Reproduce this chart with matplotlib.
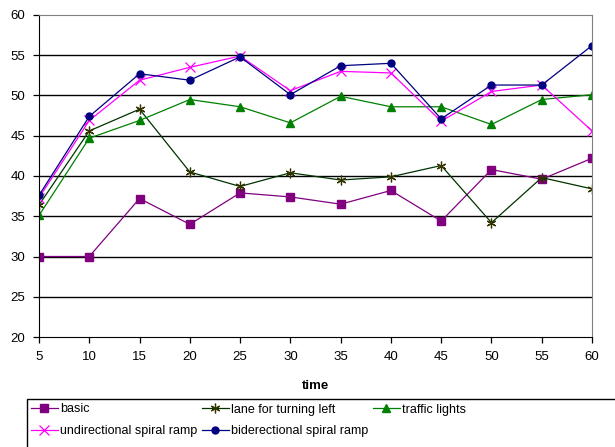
import matplotlib
matplotlib.use("Agg")
from matplotlib import pyplot as plt
from matplotlib.patches import Rectangle

plt.rcParams['font.family'] = ['Liberation Sans', 'DejaVu Sans']

time = [5, 10, 15, 20, 25, 30, 35, 40, 45, 50, 55, 60]

basic = [30.0, 30.0, 37.2, 34.0, 37.9, 37.4, 36.5, 38.2, 34.4, 40.8, 39.6, 42.2]
lane_left = [36.4, 45.6, 48.3, 40.5, 38.7, 40.4, 39.5, 39.9, 41.3, 34.2, 39.8, 38.4]
traffic = [35.1, 44.7, 46.9, 49.5, 48.6, 46.6, 49.9, 48.6, 48.6, 46.4, 49.5, 50.1]
undir = [37.3, 46.9, 51.9, 53.5, 54.9, 50.6, 53.0, 52.8, 46.8, 50.5, 51.3, 45.6]
bider = [37.6, 47.4, 52.7, 51.9, 54.8, 50.1, 53.7, 54.0, 47.1, 51.3, 51.3, 56.2]

W, H = 615, 447
fig = plt.figure(figsize=(W / 100, H / 100), dpi=100)
ax = fig.add_axes([39 / W, 1 - 337 / H, (592 - 39) / W, (337 - 15) / H])

l1, = ax.plot(time, basic, color='#800080', lw=0.9, marker='s', ms=5.5, label='basic')
l2, = ax.plot(time, lane_left, color='#003300', lw=0.9, marker=(6, 2, 0), ms=7,
              mec='#333300', mew=0.9, label='lane for turning left')
l3, = ax.plot(time, traffic, color='#008000', lw=0.9, marker='^', ms=6, label='traffic lights')
l4, = ax.plot(time, undir, color='#ff00ff', lw=0.9, marker='x', ms=7, mew=0.9,
              label='undirectional spiral ramp')
l5, = ax.plot(time, bider, color='#000080', lw=0.9, marker='o', ms=5, label='biderectional spiral ramp')

ax.set_xlim(5, 60)
ax.set_ylim(20, 60)
ax.set_xticks(time)
ax.set_yticks(range(20, 61, 5))
ax.tick_params(direction='out', length=4, width=0.9, color='black', labelsize=9.5, pad=6)
for y in range(25, 60, 5):
    ax.axhline(y, color='black', lw=1, zorder=0)
ax.spines['top'].set_color('#808080')
ax.spines['right'].set_color('#808080')
ax.spines['left'].set_color('black')
ax.spines['bottom'].set_color('black')
ax.set_xlabel('time', fontsize=9.5, fontweight='bold', labelpad=12)

fig.patches.append(Rectangle((27 / W, -0.05), 1.0, 1 - 399 / H + 0.05, transform=fig.transFigure,
                             fill=False, edgecolor='black', lw=1))
fig.legend([l1, l4, l2, l5, l3],
           ['basic', 'undirectional spiral ramp', 'lane for turning left',
            'biderectional spiral ramp', 'traffic lights'],
           loc='upper left', bbox_to_anchor=(28 / W, 1 - 401 / H), ncol=3, frameon=False,
           fontsize=9, handlelength=2.2, handletextpad=0.15, columnspacing=0.35,
           labelspacing=0.75, borderaxespad=0, borderpad=0.2)

fig.savefig('out.png', dpi=100)
